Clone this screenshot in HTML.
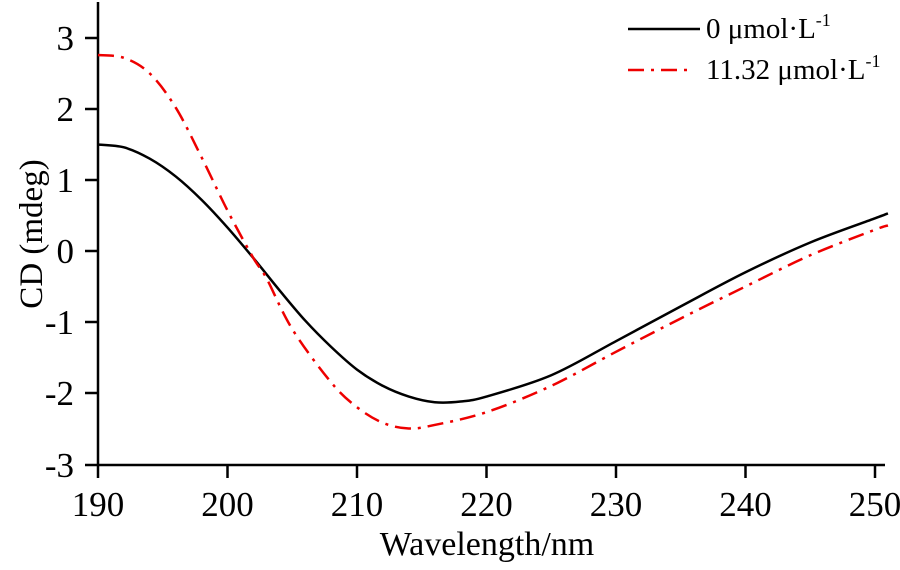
<!DOCTYPE html>
<html><head><meta charset="utf-8"><style>
body{margin:0;background:#fff}
svg text{font-family:"Liberation Serif",serif;fill:#000}
</style></head><body>
<svg id="s" width="900" height="565" viewBox="0 0 900 565" xmlns="http://www.w3.org/2000/svg">
<g stroke="#000" stroke-width="2.5" fill="none">
<line x1="98" y1="2" x2="98" y2="465"/>
<line x1="85" y1="465" x2="885" y2="465"/>
<line x1="85" y1="38" x2="98" y2="38"/><line x1="85" y1="109" x2="98" y2="109"/>
<line x1="85" y1="180" x2="98" y2="180"/><line x1="85" y1="251" x2="98" y2="251"/>
<line x1="85" y1="322" x2="98" y2="322"/><line x1="85" y1="393" x2="98" y2="393"/>
<line x1="98" y1="465" x2="98" y2="478"/><line x1="227.5" y1="465" x2="227.5" y2="478"/>
<line x1="357" y1="465" x2="357" y2="478"/><line x1="486.5" y1="465" x2="486.5" y2="478"/>
<line x1="616" y1="465" x2="616" y2="478"/><line x1="745.5" y1="465" x2="745.5" y2="478"/>
<line x1="875" y1="465" x2="875" y2="478"/>
</g>
<g font-size="35" text-anchor="end">
<text x="74" y="50">3</text><text x="74" y="121">2</text><text x="74" y="192">1</text>
<text x="74" y="263">0</text><text x="74" y="334">-1</text><text x="74" y="405">-2</text><text x="74" y="477">-3</text>
</g>
<g font-size="35" text-anchor="middle">
<text x="98" y="516">190</text><text x="227.5" y="516">200</text><text x="357" y="516">210</text>
<text x="486.5" y="516">220</text><text x="616" y="516">230</text><text x="745.5" y="516">240</text><text x="875" y="516">250</text>
<text x="487" y="555" font-size="34">Wavelength/nm</text>
</g>
<text transform="translate(42,234) rotate(-90)" text-anchor="middle" font-size="33">CD (mdeg)</text>
<line x1="628" y1="29" x2="700" y2="29" stroke="#000" stroke-width="2.5"/>
<text x="706" y="38" font-size="29">0 μmol·L<tspan dy="-12" font-size="18">-1</tspan></text>
<line x1="628" y1="70" x2="692" y2="70" stroke="#e00" stroke-width="2.5" stroke-dasharray="16,7,3,7"/>
<text x="706" y="79" font-size="29">11.32 μmol·L<tspan dy="-12" font-size="18">-1</tspan></text>
<path id="b" fill="none" stroke="#000" stroke-width="2.5"/>
<path id="r" fill="none" stroke="#e00" stroke-width="2.5" stroke-dasharray="16,7,3,7"/>
</svg>
<script>
function X(w){return 98+(w-190)*12.95}
function Y(v){return 251-v*71}
function path(d){
 var p=d.map(function(a){return [X(a[0]),Y(a[1])]});
 var s="M"+p[0][0]+","+p[0][1];
 for(var i=0;i<p.length-1;i++){
  var p0=p[i-1]||p[i],p1=p[i],p2=p[i+1],p3=p[i+2]||p2;
  var c1=[p1[0]+(p2[0]-p0[0])/6,p1[1]+(p2[1]-p0[1])/6];
  var c2=[p2[0]-(p3[0]-p1[0])/6,p2[1]-(p3[1]-p1[1])/6];
  s+=" C"+c1+" "+c2+" "+p2;
 }
 return s;
}
var B=[[190,1.5],[192,1.46],[194,1.3],[196,1.05],[198,0.72],[200,0.33],[202,-0.1],[204,-0.55],[206,-0.98],[208,-1.35],[210,-1.67],[212,-1.9],[214,-2.05],[216,-2.13],[218,-2.12],[220,-2.05],[225,-1.75],[230,-1.27],[235,-0.78],[240,-0.3],[245,0.12],[250,0.46],[251,0.53]];
var R=[[190,2.76],[192,2.72],[194,2.5],[196,2.02],[198,1.32],[200,0.57],[202,-0.1],[203,-0.38],[205,-1.1],[208,-1.85],[210,-2.2],[212,-2.42],[214,-2.5],[216,-2.45],[220,-2.27],[225,-1.9],[230,-1.42],[235,-0.95],[240,-0.5],[245,-0.06],[250,0.3],[251,0.36]];
document.getElementById("b").setAttribute("d",path(B));
document.getElementById("r").setAttribute("d",path(R));
</script>
</body></html>
